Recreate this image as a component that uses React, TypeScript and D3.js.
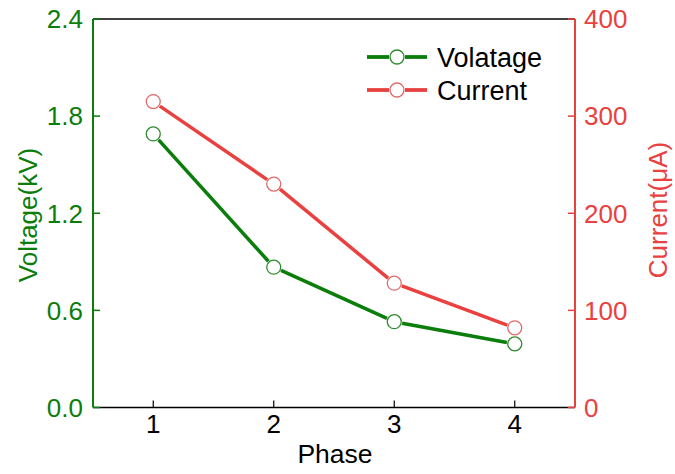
import React from "react";
import * as d3 from "d3";

const phases = [1, 2, 3, 4];
const voltage = [1.69, 0.867, 0.53, 0.393];
const current = [315, 230, 128, 82];
const xTicks = [1, 2, 3, 4];
const leftTicks = [0, 0.6, 1.2, 1.8, 2.4];
const rightTicks = [0, 100, 200, 300, 400];

const W = 675;
const H = 474;
const M = { left: 93, right: 575, top: 19, bottom: 407.5 };
const GREEN = "#0b7d0b";
const RED = "#e8413f";
const FONT = "'Liberation Sans', Arial, sans-serif";
const R = 7;

function segs(pts: [number, number][], gap: number) {
  const out: [number, number, number, number][] = [];
  for (let i = 0; i < pts.length - 1; i++) {
    const [x1, y1] = pts[i];
    const [x2, y2] = pts[i + 1];
    const d = Math.hypot(x2 - x1, y2 - y1);
    const ux = (x2 - x1) / d;
    const uy = (y2 - y1) / d;
    out.push([x1 + ux * gap, y1 + uy * gap, x2 - ux * gap, y2 - uy * gap]);
  }
  return out;
}

export default function App() {
  const x = d3.scaleLinear().domain([0.5, 4.5]).range([M.left, M.right]);
  const yL = d3.scaleLinear().domain([0, 2.4]).range([M.bottom, M.top]);
  const yR = d3.scaleLinear().domain([0, 400]).range([M.bottom, M.top]);

  const vPts = phases.map((p, i) => [x(p), yL(voltage[i])] as [number, number]);
  const cPts = phases.map((p, i) => [x(p), yR(current[i])] as [number, number]);

  const series = [
    { pts: vPts, color: GREEN, circ: "#2e8b2e" },
    { pts: cPts, color: RED, circ: "#e06a6a" },
  ];

  const legend = [
    { label: "Volatage", color: GREEN, circ: "#2e8b2e", y: 57 },
    { label: "Current", color: RED, circ: "#e06a6a", y: 90 },
  ];

  return (
    <svg
      width={W}
      height={H}
      style={{ position: "absolute", left: 0, top: 0, background: "#fff" }}
      fontFamily={FONT}
    >
      <rect x={0} y={0} width={W} height={H} fill="#fff" />
      <line x1={M.left} x2={M.right} y1={M.top} y2={M.top} stroke="#000" strokeWidth={1.5} />
      <line x1={M.left} x2={M.right} y1={M.bottom} y2={M.bottom} stroke="#000" strokeWidth={1.5} />
      <line x1={M.left} x2={M.left} y1={M.top} y2={M.bottom} stroke={GREEN} strokeWidth={2} />
      <line x1={M.right} x2={M.right} y1={M.top} y2={M.bottom} stroke={RED} strokeWidth={2} />

      {xTicks.map((t) => (
        <g key={"x" + t}>
          <line x1={x(t)} x2={x(t)} y1={M.bottom} y2={M.bottom - 7} stroke="#000" strokeWidth={1.2} />
          <text x={x(t)} y={433} textAnchor="middle" fontSize={26} fill="#000">
            {t}
          </text>
        </g>
      ))}
      {leftTicks.map((t) => (
        <g key={"l" + t}>
          <line x1={M.left} x2={M.left + 7} y1={yL(t)} y2={yL(t)} stroke={GREEN} strokeWidth={1.5} />
          <text x={83} y={yL(t)} dy="0.36em" textAnchor="end" fontSize={26} fill={GREEN}>
            {t.toFixed(1)}
          </text>
        </g>
      ))}
      {rightTicks.map((t) => (
        <g key={"r" + t}>
          <line x1={M.right} x2={M.right - 7} y1={yR(t)} y2={yR(t)} stroke={RED} strokeWidth={1.5} />
          <text x={584} y={yR(t)} dy="0.36em" textAnchor="start" fontSize={26} fill={RED}>
            {t}
          </text>
        </g>
      ))}

      <text x={335} y={463} textAnchor="middle" fontSize={26.5} fill="#000">
        Phase
      </text>
      <text
        transform={`translate(37,215) rotate(-90)`}
        textAnchor="middle"
        fontSize={26}
        fill={GREEN}
      >
        Voltage(kV)
      </text>
      <text
        transform={`translate(667,210) rotate(-90)`}
        textAnchor="middle"
        fontSize={26}
        fill={RED}
      >
        Current(μA)
      </text>

      {series.map((s, si) => (
        <g key={"s" + si}>
          {segs(s.pts, R + 1).map((sg, i) => (
            <line
              key={i}
              x1={sg[0]}
              y1={sg[1]}
              x2={sg[2]}
              y2={sg[3]}
              stroke={s.color}
              strokeWidth={3.5}
            />
          ))}
          {s.pts.map((p, i) => (
            <circle key={"c" + i} cx={p[0]} cy={p[1]} r={R} fill="none" stroke={s.circ} strokeWidth={1.3} />
          ))}
        </g>
      ))}

      {legend.map((l) => (
        <g key={l.label}>
          <line x1={367} x2={389} y1={l.y} y2={l.y} stroke={l.color} strokeWidth={3.8} />
          <line x1={405} x2={427} y1={l.y} y2={l.y} stroke={l.color} strokeWidth={3.8} />
          <circle cx={397} cy={l.y} r={R} fill="none" stroke={l.circ} strokeWidth={1.3} />
          <text x={437} y={l.y} dy="0.36em" fontSize={27} fill="#000">
            {l.label}
          </text>
        </g>
      ))}
    </svg>
  );
}
